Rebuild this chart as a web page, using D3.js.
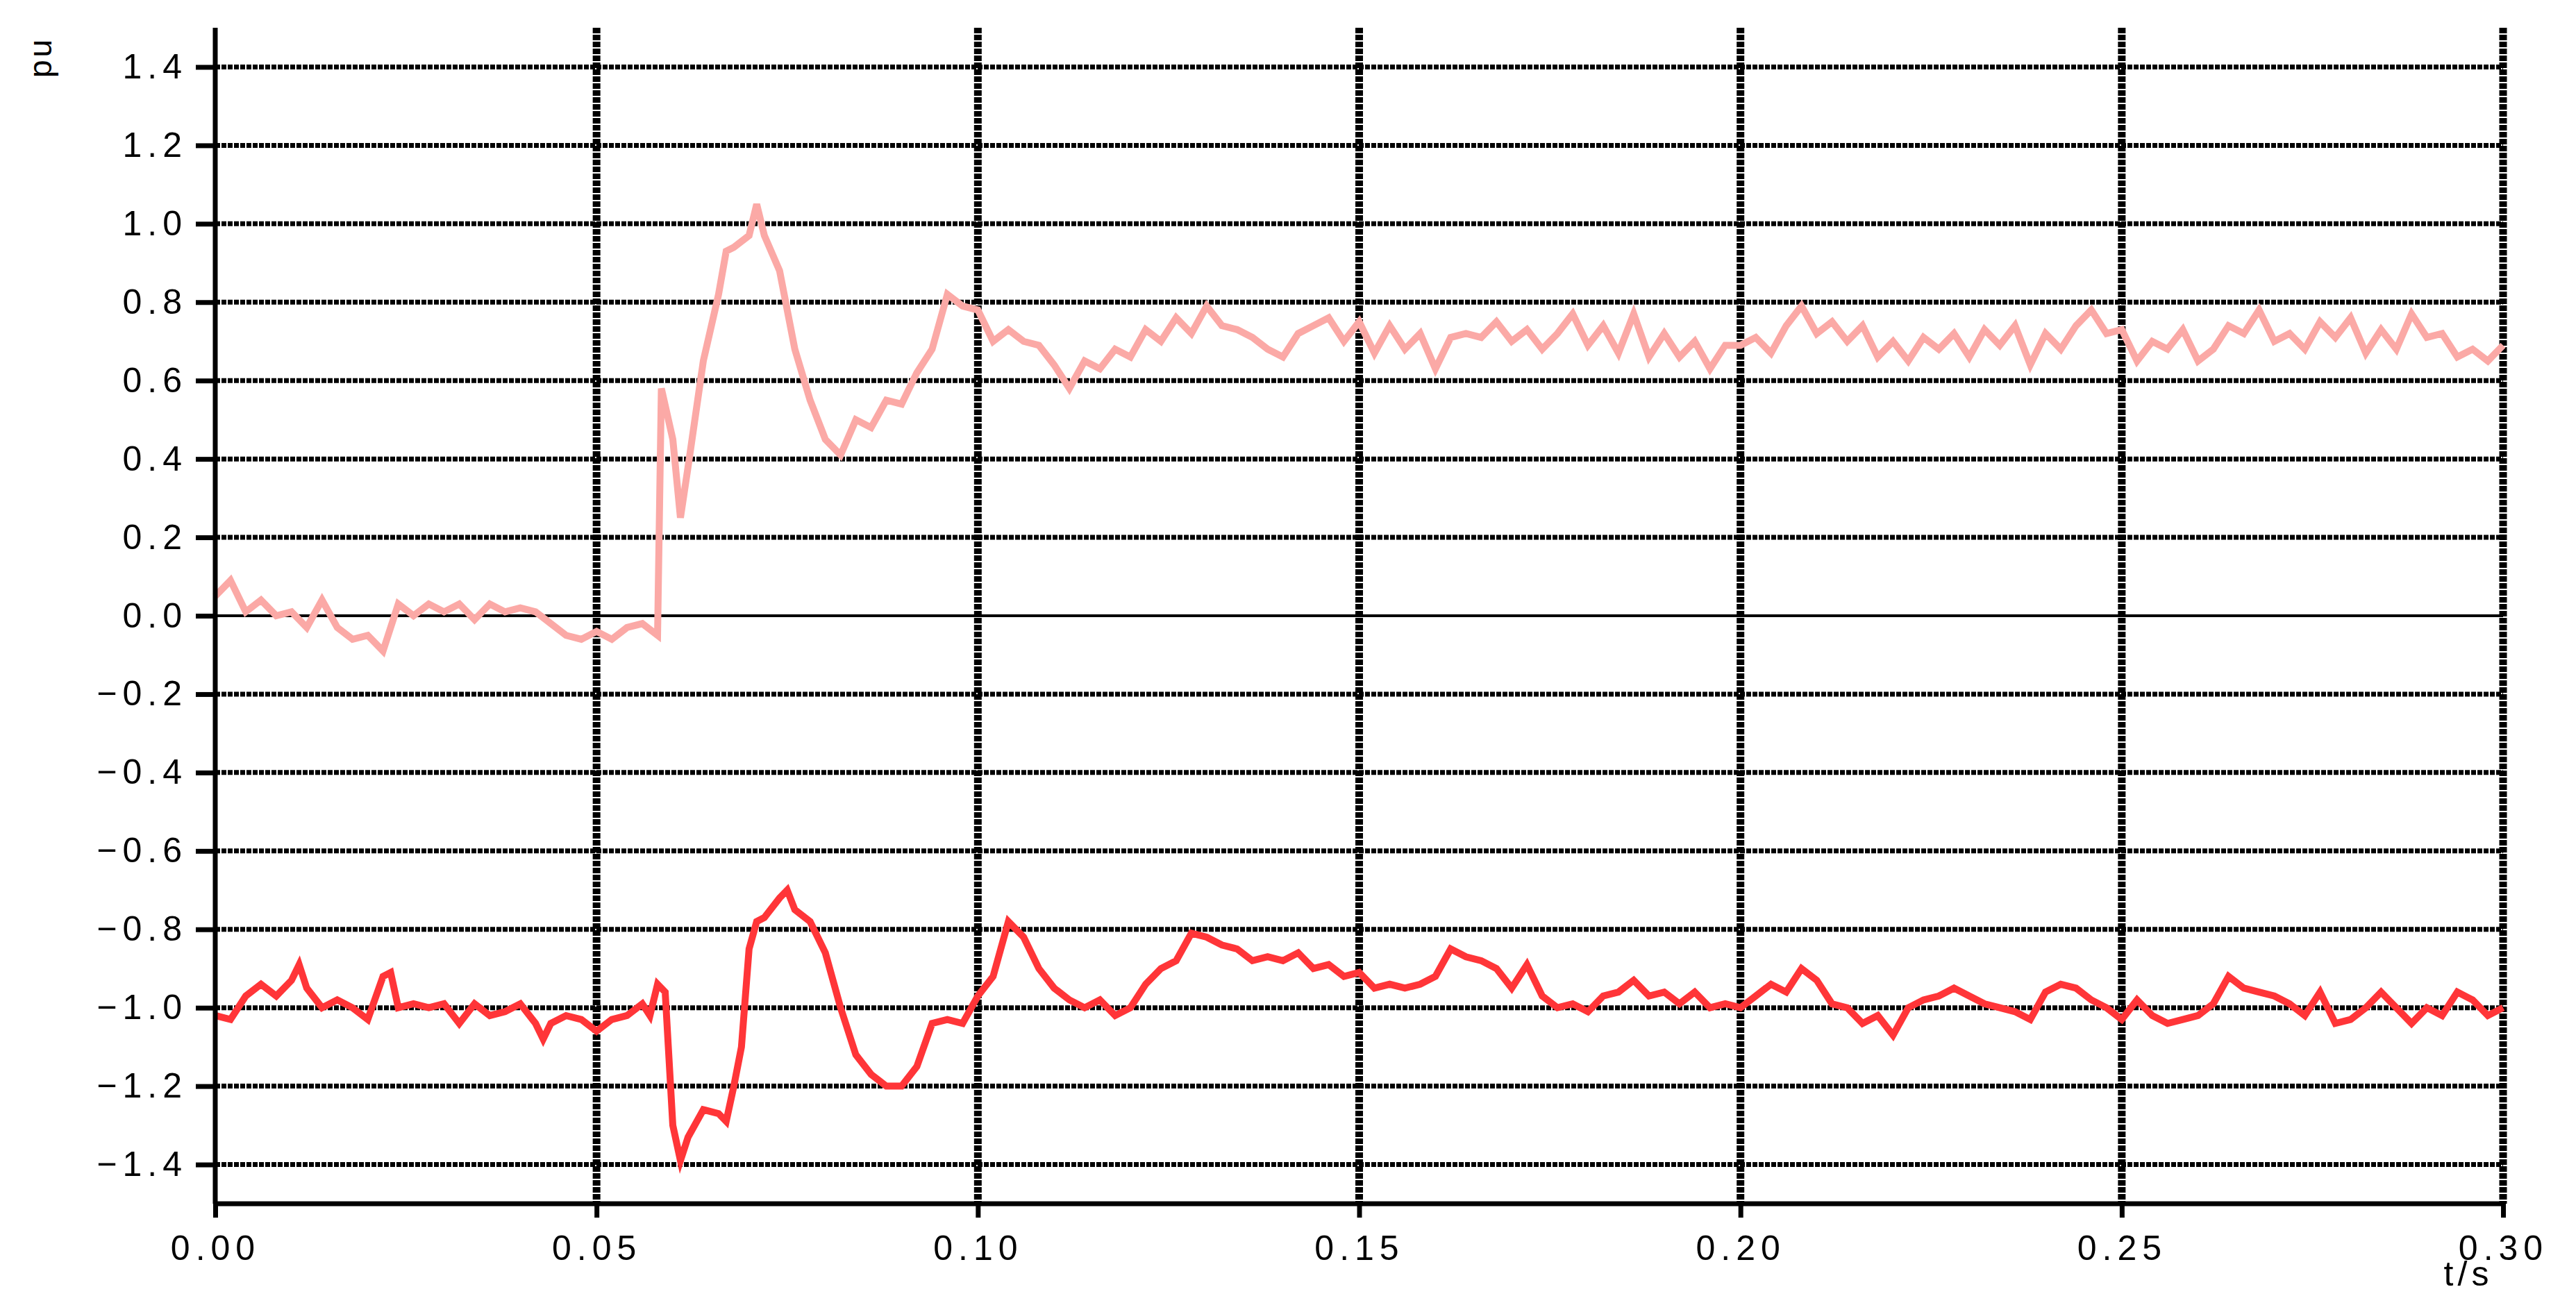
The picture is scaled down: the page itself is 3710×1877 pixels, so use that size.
<!DOCTYPE html>
<html><head><meta charset="utf-8">
<script src="https://cdn.jsdelivr.net/npm/d3@7"></script>
<style>body{margin:0;background:#fff}text{font-family:"Liberation Sans",Arial,sans-serif}</style>
</head><body><svg id="chart" width="3710" height="1877"></svg>
<script>
var xTicks = [0, 0.05, 0.10, 0.15, 0.20, 0.25, 0.30];
var yTicks = [-1.4, -1.2, -1.0, -0.8, -0.6, -0.4, -0.2, 0.0, 0.2, 0.4, 0.6, 0.8, 1.0, 1.2, 1.4];

var pinkT = [0,0.002,0.004,0.006,0.008,0.010,0.012,0.014,0.016,0.018,0.020,0.022,0.024,0.026,0.028,0.030,0.032,0.034,0.036,0.038,0.040,0.042,0.044,0.046,0.048,0.050,0.052,0.054,0.056,0.058,0.0585,0.060,0.061,0.062,0.064,0.066,0.067,0.068,0.070,0.071,0.072,0.074,0.076,0.078,0.080,0.082,0.084,0.086,0.088,0.090,0.092,0.094,0.096,0.098,0.100,0.102,0.104,0.106,0.108,0.110,0.112,0.114,0.116,0.118,0.120,0.122,0.124,0.126,0.128,0.130,0.132,0.134,0.136,0.138,0.140,0.142,0.144,0.146,0.148,0.150,0.152,0.154,0.156,0.158,0.160,0.162,0.164,0.166,0.168,0.170,0.172,0.174,0.176,0.178,0.180,0.182,0.184,0.186,0.188,0.190,0.192,0.194,0.196,0.198,0.200,0.202,0.204,0.206,0.208,0.210,0.212,0.214,0.216,0.218,0.220,0.222,0.224,0.226,0.228,0.230,0.232,0.234,0.236,0.238,0.240,0.242,0.244,0.246,0.248,0.250,0.252,0.254,0.256,0.258,0.260,0.262,0.264,0.266,0.268,0.270,0.272,0.274,0.276,0.278,0.280,0.282,0.284,0.286,0.288,0.290,0.292,0.294,0.296,0.298,0.300];
var pinkV = [0.05,0.09,0.01,0.04,0.0,0.01,-0.03,0.04,-0.03,-0.06,-0.05,-0.09,0.03,0.0,0.03,0.01,0.03,-0.01,0.03,0.01,0.02,0.01,-0.02,-0.05,-0.06,-0.04,-0.06,-0.03,-0.02,-0.05,0.58,0.45,0.25,0.38,0.65,0.82,0.93,0.94,0.97,1.05,0.97,0.88,0.68,0.55,0.45,0.41,0.5,0.48,0.55,0.54,0.62,0.68,0.82,0.79,0.78,0.7,0.73,0.7,0.69,0.64,0.58,0.65,0.63,0.68,0.66,0.73,0.7,0.76,0.72,0.79,0.74,0.73,0.71,0.68,0.66,0.72,0.74,0.76,0.7,0.75,0.67,0.74,0.68,0.72,0.63,0.71,0.72,0.71,0.75,0.7,0.73,0.68,0.72,0.77,0.69,0.74,0.67,0.77,0.66,0.72,0.66,0.7,0.63,0.69,0.69,0.71,0.67,0.74,0.79,0.72,0.75,0.7,0.74,0.66,0.7,0.65,0.71,0.68,0.72,0.66,0.73,0.69,0.74,0.64,0.72,0.68,0.74,0.78,0.72,0.73,0.65,0.7,0.68,0.73,0.65,0.68,0.74,0.72,0.78,0.7,0.72,0.68,0.75,0.71,0.76,0.67,0.73,0.68,0.77,0.71,0.72,0.66,0.68,0.65,0.69];

var redT = [0,0.002,0.004,0.006,0.008,0.010,0.011,0.012,0.014,0.016,0.018,0.020,0.022,0.023,0.024,0.026,0.028,0.030,0.032,0.034,0.036,0.038,0.040,0.042,0.043,0.044,0.046,0.048,0.050,0.052,0.054,0.056,0.057,0.058,0.059,0.060,0.061,0.062,0.064,0.066,0.067,0.068,0.069,0.070,0.071,0.072,0.074,0.075,0.076,0.078,0.080,0.082,0.084,0.086,0.088,0.090,0.092,0.094,0.096,0.098,0.100,0.102,0.104,0.106,0.108,0.110,0.112,0.114,0.116,0.118,0.120,0.122,0.124,0.126,0.128,0.130,0.132,0.134,0.136,0.138,0.140,0.142,0.144,0.146,0.148,0.150,0.152,0.154,0.156,0.158,0.160,0.162,0.164,0.166,0.168,0.170,0.172,0.174,0.176,0.178,0.180,0.182,0.184,0.186,0.188,0.190,0.192,0.194,0.196,0.198,0.200,0.202,0.204,0.206,0.208,0.210,0.212,0.214,0.216,0.218,0.220,0.222,0.224,0.226,0.228,0.230,0.232,0.234,0.236,0.238,0.240,0.242,0.244,0.246,0.248,0.250,0.252,0.254,0.256,0.258,0.260,0.262,0.264,0.266,0.268,0.270,0.272,0.274,0.276,0.278,0.280,0.282,0.284,0.286,0.288,0.290,0.292,0.294,0.296,0.298,0.300];
var redV = [-1.02,-1.03,-0.97,-0.94,-0.97,-0.93,-0.89,-0.95,-1.0,-0.98,-1.0,-1.03,-0.92,-0.91,-1.0,-0.99,-1.0,-0.99,-1.04,-0.99,-1.02,-1.01,-0.99,-1.04,-1.08,-1.04,-1.02,-1.03,-1.06,-1.03,-1.02,-0.99,-1.02,-0.94,-0.96,-1.3,-1.39,-1.33,-1.26,-1.27,-1.29,-1.2,-1.1,-0.85,-0.78,-0.77,-0.72,-0.7,-0.75,-0.78,-0.86,-1.0,-1.12,-1.17,-1.2,-1.2,-1.15,-1.04,-1.03,-1.04,-0.97,-0.92,-0.78,-0.82,-0.9,-0.95,-0.98,-1.0,-0.98,-1.02,-1.0,-0.94,-0.9,-0.88,-0.81,-0.82,-0.84,-0.85,-0.88,-0.87,-0.88,-0.86,-0.9,-0.89,-0.92,-0.91,-0.95,-0.94,-0.95,-0.94,-0.92,-0.85,-0.87,-0.88,-0.9,-0.95,-0.89,-0.97,-1.0,-0.99,-1.01,-0.97,-0.96,-0.93,-0.97,-0.96,-0.99,-0.96,-1.0,-0.99,-1.0,-0.97,-0.94,-0.96,-0.9,-0.93,-0.99,-1.0,-1.04,-1.02,-1.07,-1.0,-0.98,-0.97,-0.95,-0.97,-0.99,-1.0,-1.01,-1.03,-0.96,-0.94,-0.95,-0.98,-1.0,-1.03,-0.98,-1.02,-1.04,-1.03,-1.02,-0.99,-0.92,-0.95,-0.96,-0.97,-0.99,-1.02,-0.96,-1.04,-1.03,-1.0,-0.96,-1.0,-1.04,-1.0,-1.02,-0.96,-0.98,-1.02,-1.0];

var svg = d3.select('#chart');
var mLeft = 310, mRight = 3605, mTop = 40, mBottom = 1734;
var x = d3.scaleLinear().domain([0, 0.3]).range([mLeft, mRight]);
var y = d3.scaleLinear().domain([-1.5, 1.5]).range([mBottom, mTop]);

// horizontal grid
svg.append('g').selectAll('line').data(yTicks).enter().append('line')
    .attr('x1', mLeft).attr('x2', mRight)
    .attr('y1', function (d) { return y(d); }).attr('y2', function (d) { return y(d); })
    .style('stroke', '#000')
    .style('stroke-width', function (d) { return d === 0 ? 4 : 7; })
    .style('stroke-dasharray', function (d) { return d === 0 ? null : '7,2'; });

// vertical grid
svg.append('g').selectAll('line').data(xTicks.slice(1)).enter().append('line')
    .attr('x1', function (d) { return x(d); }).attr('x2', function (d) { return x(d); })
    .attr('y1', mTop).attr('y2', mBottom)
    .style('stroke', '#000').style('stroke-width', 11).style('stroke-dasharray', '8,2');

var line = d3.line()
    .x(function (d) { return x(d[0]); })
    .y(function (d) { return y(d[1]); });

svg.append('path').datum(d3.zip(pinkT, pinkV))
    .attr('d', line).style('fill', 'none').style('stroke', '#fba9a6')
    .style('stroke-width', 10).style('stroke-linejoin', 'miter');
svg.append('path').datum(d3.zip(redT, redV))
    .attr('d', line).style('fill', 'none').style('stroke', '#ff3538')
    .style('stroke-width', 10).style('stroke-linejoin', 'miter');

// axes
var xAxis = d3.axisBottom(x).tickValues(xTicks).tickFormat(d3.format('.2f')).tickSize(20).tickSizeOuter(0);
var yAxis = d3.axisLeft(y).tickValues(yTicks).tickFormat(d3.format('.1f')).tickSize(28).tickSizeOuter(0);

var gx = svg.append('g').attr('transform', 'translate(0,' + mBottom + ')').call(xAxis);
var gy = svg.append('g').attr('transform', 'translate(' + mLeft + ',0)').call(yAxis);
[gx, gy].forEach(function (g) {
    g.select('.domain').style('stroke', '#000').style('stroke-width', 7);
    g.selectAll('.tick line').style('stroke', '#000').style('stroke-width', 7);
    g.selectAll('.tick text').style('font-size', '50px').style('fill', '#000').style('letter-spacing', '8px');
});
gx.select('.domain').attr('d', 'M' + mLeft + ',0H' + mRight);
gy.select('.domain').attr('d', 'M0,' + mTop + 'V' + mBottom);
gx.selectAll('.tick text').attr('dy', '1.15em');
gy.selectAll('.tick text').attr('x', -40);

svg.append('text').attr('transform', 'translate(74,112) rotate(-90)')
    .style('font-size', '46px').style('letter-spacing', '4px').text('pu');
svg.append('text').attr('x', 3555).attr('y', 1852).attr('text-anchor', 'middle')
    .style('font-size', '50px').style('letter-spacing', '6px').text('t/s');
</script></body></html>
